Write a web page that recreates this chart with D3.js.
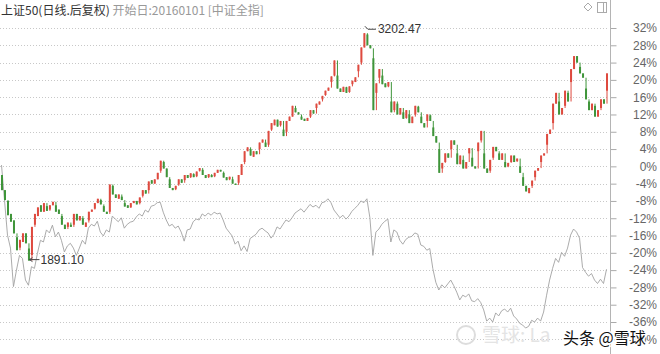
<!DOCTYPE html>
<html>
<head>
<meta charset="utf-8">
<script src="https://cdn.jsdelivr.net/npm/d3@7"></script>
<style>
  body { margin: 0; background: #fff; }
  svg { display: block; font-family: "Liberation Sans", Arial, sans-serif; }
</style>
</head>
<body>
<svg width="660" height="354"></svg>
<script>
// 上证50 daily candles (percent vs 2016-01-01)
const opens = [
  -2.0,-5.5,-8,-11,-12.5,-16.4,-18.8,-17.5,-15.5,-19,
  -20.5,-13.5,-11.5,-9,-10.5,-9.2,-10,-9,-9,-10,
  -11.5,-13.5,-14,-13.5,-13.5,-11,-12.5,-12,-14,-12.5,
  -10.5,-9.8,-8.5,-7.8,-9.2,-10.5,-10.5,-4.5,-6.5,-7.5,
  -7,-8.5,-9,-9.5,-8.5,-8,-8.5,-6.8,-5.5,-5.5,
  -3.2,-4,-3,-1,1,-0.5,-3,-5,-5.3,-4.2,
  -3,-3.2,-2,-2.5,-1.8,-2.3,-1,-0.8,-2,-2.5,
  -2,-2.3,-1.5,-0.8,-1.5,-2.5,-3,-3,-4,-3.8,
  -2,1,3.5,4,2.2,3.5,4,5.5,5.5,5,
  8.5,9.5,10.8,9.5,8.5,8,10.5,11.5,13.5,12.5,
  11.5,11,10.5,11.5,13,13.5,14.3,15.5,16.5,17.5,
  19.5,21,21,18,17.2,18.3,17.2,19,19.5,22,
  24,27.5,30.5,28,25,17,20.5,21,19.2,18.5,
  15,13,14.5,12,12.5,11.2,12,10,12,13.8,
  11.5,10,10.5,11.8,9,7,4,-0.5,1,3,
  4,6,3,0.5,1.5,-0.5,3,2,0,3.5,
  6,3,-0.5,-1,2,4.5,3,1.5,1,0,
  1,2.5,1.2,0,-2.5,-4.5,-6.2,-4.5,-2.5,-1,
  1,2.5,5,7.5,10,14.5,15,12,14,17,
  19.5,22.5,25.5,23,21.5,18,15,13,14,11.5,
  13.5,15.5,17.5
];
const closes = [
  -5.5,-7.8,-11.3,-12.8,-15.5,-19.4,-17,-15.5,-17.8,-21.8,
  -14,-11,-9.5,-10.5,-8.5,-10.3,-9,-8.2,-10.5,-11,
  -13.5,-14.5,-13,-14,-11,-12.5,-11.5,-13.5,-13,-10.5,
  -10,-8.5,-7.5,-8.8,-10.5,-11,-4.2,-6.5,-7.3,-6.5,
  -7.8,-9.3,-9.6,-8.5,-8,-8.8,-7.2,-5.5,-6.3,-3.5,
  -4,-3,-1.5,1.3,-0.5,-2.5,-5,-5.5,-4.5,-3,
  -3.8,-2,-2.7,-1.6,-2.5,-1.2,-0.4,-2,-2.7,-1.8,
  -2.5,-1.5,-0.8,-1.2,-2.6,-3.2,-2.4,-4,-4.3,-2,
  0.5,3.5,4.4,2.5,3.5,2.8,5.5,6.2,4.5,8.2,
  10,10.8,9.2,10.5,7,10.5,11.5,14,12.5,12,
  10.8,10.5,11.2,13,12.2,14.5,15,16.3,17.5,18.2,
  20.8,24.5,18,17.2,18.4,17,18.5,19.8,20.6,23.5,
  27.5,30.8,28,27.3,13,19.2,22.5,19,18.3,19.5,
  12.5,15,12,13.5,11,13,10,11.5,14,12.5,
  10,9,12,10.5,7,5.5,-1.5,0.8,3,2,
  6,5,0.5,2.5,-0.5,1,4.2,0,-0.5,5.5,
  8.2,-0.5,-1.5,1.5,4.5,3.5,1.5,3,-0.2,0.8,
  2.5,1,1.8,-1.5,-4.5,-5.8,-5,-3.3,-1,-0.4,
  2.5,3,7.5,8.5,14.5,17,12,13.5,17.5,15,
  22.5,25.5,24,21.5,20.5,15.5,13,14.5,11.5,13,
  15.5,14.5,21.5
];
// 中证全指, percent vs start
const indexPct = [
  0.3,-7.8,-15.9,-18.9,-27.8,-24,-20.6,-21.3,-26.3,-27.5,
  -23.2,-23.6,-20.1,-17.1,-17.5,-14.7,-15.4,-13.6,-16.3,-15.2,
  -17.1,-19.8,-18.4,-17.8,-18.9,-20.6,-18.9,-17.1,-18,-14.3,
  -13.4,-13.8,-12.7,-15.2,-16.1,-14.7,-15.2,-11.5,-12.2,-12.8,
  -11.9,-14.3,-13.4,-12.9,-12.7,-11.7,-11,-11.5,-10.1,-10.6,
  -9.2,-9,-8.4,-8.3,-10.6,-12.4,-13.8,-13.4,-14.3,-13.8,
  -15.2,-17.3,-14.7,-14.5,-12.8,-12.2,-12.4,-11,-11.5,-10.8,
  -11.3,-10.6,-11,-10.8,-12.4,-14.3,-15.2,-16.1,-18,-17.3,
  -19.5,-18.4,-19.7,-16.7,-16.2,-15.7,-14.7,-14.3,-14.9,-15.4,
  -16.6,-15.7,-14,-14.5,-13.4,-12.4,-12.8,-11.9,-10.8,-10.3,
  -9.8,-10.6,-9.7,-8.8,-9.4,-9,-9.7,-8.4,-8.2,-7.5,
  -8.4,-10.1,-11,-11.9,-11.3,-12.2,-11.5,-10.4,-9.7,-9,
  -8,-8.4,-7.5,-11.9,-20.6,-15.2,-14.5,-13.4,-12.7,-12.2,
  -17.5,-14.7,-15.2,-17.1,-18,-16.9,-16.4,-16.2,-15.4,-15.7,
  -18.2,-18.5,-19.4,-19,-23.6,-26.8,-28.6,-27.4,-28.1,-27.2,
  -26.3,-27.6,-29.1,-30.9,-29.8,-30.2,-29.5,-31.1,-31.3,-30.6,
  -31.5,-33.2,-35.8,-35.1,-36,-33.9,-34.6,-33.4,-33,-33.7,
  -32.8,-34.6,-35.3,-36.3,-36.7,-37.4,-37,-35.6,-36,-35.1,
  -35.8,-33.7,-29.8,-26.3,-23.6,-21.3,-22.2,-19.9,-20.8,-18.9,
  -15.9,-14.5,-15.2,-16.6,-23.4,-24.5,-25.4,-24.8,-26.3,-27.1,
  -26.1,-27.1,-23.8
];
const tickValues = d3.range(32, -41, -4);
const basePrice = 2440;
const extremePrices = [3202.47, 1891.10];

const svg = d3.select("svg");

const x = d3.scaleLinear().domain([0, closes.length - 1]).range([1.5, 606.5]);
const y = d3.scaleLinear().domain([-36, 32]).range([322, 28]);

// Grid
svg.append("g")
  .selectAll("line")
  .data(tickValues)
  .join("line")
  .attr("x1", 0)
  .attr("x2", 608)
  .attr("y1", function (d) { return Math.round(y(d)) + 0.5; })
  .attr("y2", function (d) { return Math.round(y(d)) + 0.5; })
  .attr("stroke", "#c8c8c8")
  .attr("stroke-dasharray", "1,2");

// Index line
const line = d3.line()
  .x(function (d, i) { return x(i); })
  .y(function (d) { return y(d); });

svg.append("path")
  .datum(indexPct)
  .attr("d", line)
  .attr("fill", "none")
  .attr("stroke", "#a2a2a2")
  .attr("stroke-width", 0.9);

function candleColor(d, i) {
  return d >= opens[i] ? "#de4a3f" : "#3f953a";
}

// Candle wicks: from previous close to this candle's range
svg.append("g")
  .selectAll("line")
  .data(closes)
  .join("line")
  .attr("x1", function (d, i) { return x(i) + 0.5; })
  .attr("x2", function (d, i) { return x(i) + 0.5; })
  .attr("y1", function (d, i) {
    const prev = i > 0 ? closes[i - 1] : opens[i];
    return y(Math.max(d, opens[i], prev));
  })
  .attr("y2", function (d, i) {
    const prev = i > 0 ? closes[i - 1] : opens[i];
    return y(Math.min(d, opens[i], prev));
  })
  .attr("stroke", candleColor)
  .attr("stroke-width", 1);

// Candle bodies
svg.append("g")
  .selectAll("rect")
  .data(closes)
  .join("rect")
  .attr("x", function (d, i) { return x(i) - 0.5; })
  .attr("width", 2)
  .attr("y", function (d, i) { return y(Math.max(d, opens[i])); })
  .attr("height", function (d, i) {
    return Math.max(1, Math.abs(y(d) - y(opens[i])));
  })
  .attr("fill", candleColor);

// Right axis
const axis = svg.append("g")
  .attr("transform", "translate(610.5,0)")
  .call(d3.axisRight(y).tickValues(tickValues).tickSize(6)
    .tickFormat(function (d) { return d + "%"; }));
axis.select(".domain").remove();
axis.selectAll(".tick line").attr("stroke", "#aaa");
axis.selectAll("text")
  .attr("x", 46.5)
  .attr("text-anchor", "end")
  .attr("fill", "#666")
  .attr("font-size", 12)
  .attr("font-family", "Liberation Sans, Arial, sans-serif");
svg.append("line")
  .attr("x1", 610.5).attr("x2", 610.5)
  .attr("y1", 0).attr("y2", 354)
  .attr("stroke", "#b4b4b4");

// Max / min labels
const hi = d3.maxIndex(closes);
const lo = d3.minIndex(closes);
const hiY = y((extremePrices[0] / basePrice - 1) * 100) - 2;
const loY = y((extremePrices[1] / basePrice - 1) * 100) - 4;

svg.append("path")
  .attr("d", "M" + (x(hi) + 1) + "," + (hiY - 3) + " l3,3 h8")
  .attr("fill", "none").attr("stroke", "#444");
svg.append("text")
  .attr("x", x(hi) + 14).attr("y", hiY + 4)
  .attr("font-size", 12).attr("fill", "#333")
  .text(extremePrices[0].toFixed(2));

svg.append("path")
  .attr("d", "M" + (x(lo) + 11) + "," + loY + " h-10 m3,-2 l-3,2 l3,2")
  .attr("fill", "none").attr("stroke", "#444");
svg.append("text")
  .attr("x", x(lo) + 12).attr("y", loY + 4)
  .attr("font-size", 12).attr("fill", "#333")
  .text(extremePrices[1].toFixed(2));

// Title
const title = svg.append("text")
  .attr("x", 1).attr("y", 15)
  .attr("font-size", 12)
  .attr("font-family", "Noto Sans CJK SC, sans-serif");
title.append("tspan").attr("fill", "#333").text("上证50(日线.后复权)");
title.append("tspan").attr("fill", "#999").text(" 开始日:20160101  [中证全指]");

// Top-right icons
svg.append("path")
  .attr("d", "M588,3 l4,4 l-4,4 l-4,-4 z")
  .attr("fill", "none").attr("stroke", "#aaa");
svg.append("rect")
  .attr("x", 597.5).attr("y", 2.5).attr("width", 9).attr("height", 10)
  .attr("fill", "none").attr("stroke", "#aaa");
svg.append("line")
  .attr("x1", 603.5).attr("x2", 603.5).attr("y1", 2.5).attr("y2", 12.5)
  .attr("stroke", "#aaa");

// Watermarks
svg.append("circle")
  .attr("cx", 466).attr("cy", 335).attr("r", 9)
  .attr("fill", "none").attr("stroke", "#ddd").attr("stroke-width", 2);
svg.append("text")
  .attr("x", 482).attr("y", 342)
  .attr("font-size", 19).attr("fill", "#e4e4e4")
  .attr("font-family", "Noto Sans CJK SC, sans-serif")
  .text("雪球: La");
svg.append("text")
  .attr("x", 563).attr("y", 344)
  .attr("font-size", 16).attr("fill", "#111")
  .attr("stroke", "#fff").attr("stroke-width", 3)
  .attr("paint-order", "stroke")
  .attr("font-family", "Noto Sans CJK SC, sans-serif")
  .text("头条 @雪球");
</script>
</body>
</html>
